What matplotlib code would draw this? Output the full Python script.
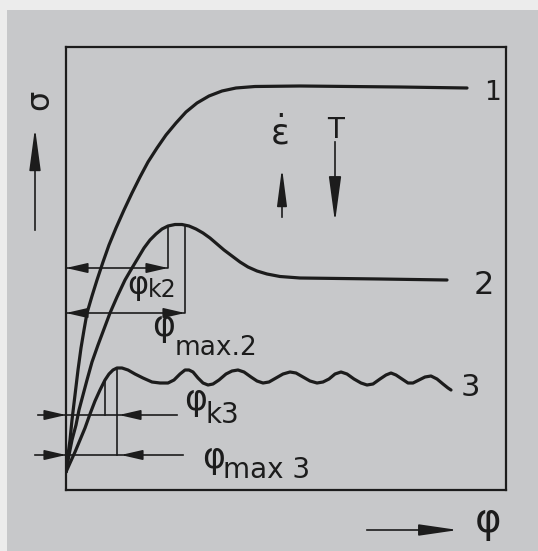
import matplotlib
matplotlib.use('Agg')
import matplotlib.pyplot as plt
from matplotlib.patches import Rectangle

plt.rcParams['font.family'] = ['Liberation Sans Narrow', 'DejaVu Sans']
plt.rcParams['mathtext.fontset'] = 'dejavusans'
plt.rcParams['mathtext.default'] = 'regular'

INK = '#1c1c1c'
PAPER = '#c7c8ca'

# flow curves, phi (strain) vs sigma (flow stress), arbitrary units
phi_1 = [0, 2, 4, 6, 9, 12, 15, 18, 21, 26, 31, 37, 43, 50, 58, 66, 74, 82, 91, 100,
         110, 120, 131, 143, 156, 170, 189, 234, 334, 401]
sig_1 = [18, 35, 50, 70, 95, 120, 142, 160, 177, 194, 210, 228, 245, 262, 280, 297, 313, 328, 342, 355,
         367, 378, 387, 394, 399, 402, 403.5, 404, 403, 402]

phi_2 = [0, 3, 6, 10, 13, 17, 21, 26, 32, 38, 44, 51, 59, 66, 72, 78, 84, 90, 96, 102,
         109, 116, 123, 130, 137, 144, 151, 158, 166, 174, 182, 191, 201, 214, 234, 314, 381]
sig_2 = [18, 35, 50, 65, 80, 95, 110, 128, 145, 161, 177, 193, 210, 222, 232, 242, 250, 256, 261, 264,
         265.5, 265.5, 264, 261, 257, 252, 246, 240, 234, 228, 223, 219, 216, 213.5, 212, 211, 210]

phi_3 = [0, 4, 9, 14, 19, 24, 29, 34, 39, 43, 47, 51, 56, 62, 69, 77, 86, 94, 102, 108,
         114, 119, 123, 127, 132, 137, 142, 147, 153, 160, 166, 172, 178, 185, 191, 197,
         203, 210, 217, 224, 230, 237, 244, 251, 257, 263, 269, 275, 281, 288, 295, 301,
         307, 314, 320, 325, 330, 336, 342, 347, 353, 359, 365, 371, 377, 382, 385]
sig_3 = [18, 27, 38, 50, 62, 76, 89, 100, 110, 116, 120, 122, 122, 120, 116, 112, 108, 107, 107, 110,
         116, 120, 120, 118, 112, 107, 105, 106, 110, 116, 119, 120, 118, 113, 109, 107,
         108, 112, 116, 118, 117, 113, 109, 107, 108, 111, 116, 118, 116, 111, 107, 105,
         106, 111, 115, 117, 115, 111, 107, 107, 110, 113, 114, 111, 106, 102, 100]

curve_labels = ['1', '2', '3']
label_pos = [(418, 397), (408, 205), (395, 103)]
label_size = [19, 23, 22]

# critical strain phi_k and peak strain phi_max for curves 2 and 3
phi_k2, sig_k2, top_k2 = 102, 222, 264
phi_max2, sig_max2, top_max2 = 119, 177, 265.5
phi_k3, sig_k3, top_k3 = 39, 75, 110
phi_max3, sig_max3, top_max3 = 51, 35, 122

fig = plt.figure(figsize=(5.38, 5.51), dpi=100, facecolor='#ececec')
fig.patches.append(Rectangle((7 / 538, 0), 1, 1 - 10 / 551, transform=fig.transFigure,
                             facecolor=PAPER, edgecolor='none', zorder=-5))

ax = fig.add_axes([66 / 538, 61 / 551, 440 / 538, 443 / 551])
ax.set_xlim(0, 440)
ax.set_ylim(0, 443)
ax.set_facecolor('none')
ax.set_xticks([])
ax.set_yticks([])
for s in ax.spines.values():
    s.set_color(INK)
    s.set_linewidth(1.6)

for px, sy in [(phi_1, sig_1), (phi_2, sig_2), (phi_3, sig_3)]:
    ax.plot(px, sy, color=INK, lw=2.3, solid_capstyle='round', solid_joinstyle='round')

for lab, (x, y), fs in zip(curve_labels, label_pos, label_size):
    ax.text(x, y, lab, fontsize=fs, color=INK, ha='left', va='center')


def head(tip, tail, scale=10, hl=1.3, hw=0.3):
    ax.annotate('', xy=tip, xytext=tail, annotation_clip=False,
                arrowprops=dict(arrowstyle=f'-|>,head_length={hl},head_width={hw}',
                                mutation_scale=scale, color=INK, lw=1.2,
                                shrinkA=0, shrinkB=0))


def line(xs, ys, lw=1.2):
    ax.plot(xs, ys, color=INK, lw=lw, clip_on=False)


# curve 2: dimension lines drawn inside, arrows pointing outwards
line([0, phi_k2, phi_k2], [sig_k2, sig_k2, top_k2])
line([0, phi_max2, phi_max2], [sig_max2, sig_max2, top_max2])
head((0, sig_k2), (18, sig_k2))
head((phi_k2, sig_k2), (phi_k2 - 18, sig_k2))
head((0, sig_max2), (18, sig_max2))
head((phi_max2, sig_max2), (phi_max2 - 18, sig_max2))

# curve 3: short distances, arrows from outside
line([-28, 111], [sig_k3, sig_k3])
line([phi_k3, phi_k3], [sig_k3, top_k3])
line([-31, 117], [sig_max3, sig_max3])
line([phi_max3, phi_max3], [sig_max3, top_max3])
head((0, sig_k3), (-20, sig_k3))
head((53, sig_k3), (71, sig_k3))
head((0, sig_max3), (-20, sig_max3))
head((55, sig_max3), (74, sig_max3))


def phi_label(x, y, sub, xs, ys, fs_phi, fs_sub):
    ax.text(x, y, 'φ', fontsize=fs_phi, color=INK, ha='left', va='baseline', clip_on=False)
    ax.text(xs, ys, sub, fontsize=fs_sub, color=INK, ha='left', va='baseline', clip_on=False)


phi_label(61, 196, 'k2', 82, 193, 23, 17)
phi_label(86, 154, 'max.2', 109, 135, 25, 19)
phi_label(118, 80, 'k3', 140, 67, 25, 20)
phi_label(136, 22, 'max 3', 157, 12, 25, 20)

# axis arrows and symbols
head((-31, 362), (-31, 330), scale=10, hl=2.6, hw=0.35)
line([-31, -31], [260, 340])
ax.text(-26, 390, 'σ', fontsize=23, color=INK, rotation=90, ha='center', va='center')

line([301, 370], [-40, -40])
head((392, -40), (362, -40), scale=10, hl=2.4, hw=0.35)
ax.text(422, -31, 'φ', fontsize=29, color=INK, ha='center', va='center', clip_on=False)

ax.text(213, 356, r'$\dot{ε}$', fontsize=25, color=INK, ha='center', va='center')
line([216, 216], [273, 300])
head((216, 322), (216, 295), scale=10, hl=2.3, hw=0.3)
ax.text(270, 360, 'T', fontsize=20, color=INK, ha='center', va='center')
line([269, 269], [348, 290])
head((269, 268), (269, 298), scale=10, hl=2.8, hw=0.38)

fig.savefig('out.png', dpi=100, facecolor=fig.get_facecolor())
